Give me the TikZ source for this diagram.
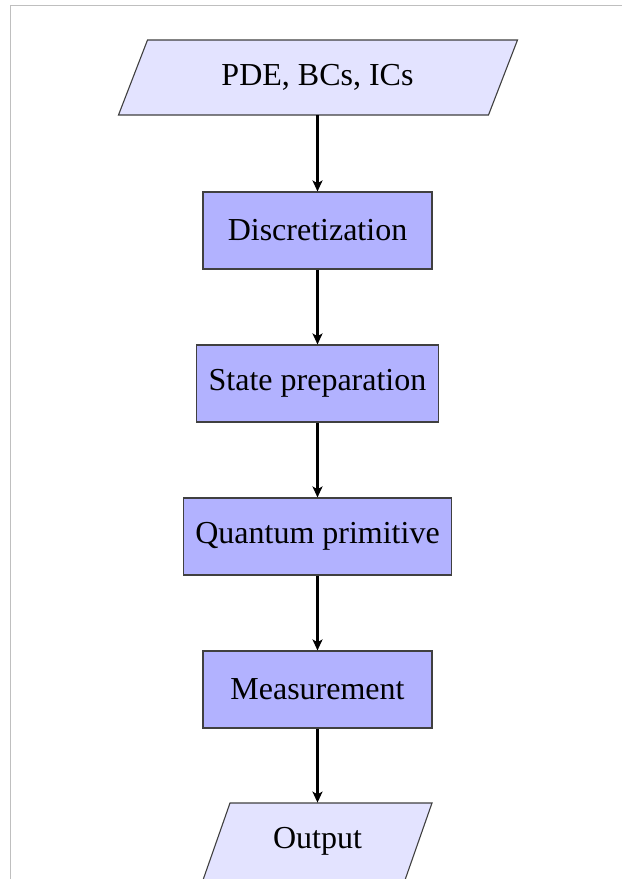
\documentclass[tikz,border=0pt]{standalone}
\usepackage{fontspec}
\setmainfont{Liberation Serif}
\usetikzlibrary{arrows.meta,calc}
\begin{document}
\begin{tikzpicture}[x=0.5pt,y=-0.5pt,
  txt/.style={font=\fontsize{16}{19}\selectfont},
  stepbox/.style={txt, draw=black!75, fill=blue!30, line width=0.55pt,
    minimum width=114.5pt, minimum height=38.5pt, inner xsep=6pt},
  iobox/.style={txt, inner sep=0pt},
  ioshape/.style={draw=black!75, fill=blue!11, line width=0.55pt},
  arr/.style={draw=black, line width=1.1pt, -{Stealth[length=5.5pt,width=5pt,inset=1.4pt]}},
  frame/.style={draw=black!25, line width=0.7pt}]
\useasboundingbox (0,0) rectangle (622,879);
\draw[frame] (10.5,879) -- (10.5,5.5) -- (622,5.5);
% input parallelogram
\node[iobox, minimum height=37.5pt] (in) at (317.5,77.5) {};
\path[ioshape] ($(in.center)+(-170,-37.5)$) -- ($(in.center)+(200,-37.5)$)
  -- ($(in.center)+(171,37.5)$) -- ($(in.center)+(-199,37.5)$) -- cycle;
\node[txt] at (in.center) {PDE, BCs, ICs};
% steps
\node[stepbox] (d) at (317.5,230.5) {Discretization};
\node[stepbox] (s) at (317.5,383.5) {State preparation};
\node[stepbox] (q) at (317.5,536.5) {Quantum primitive};
\node[stepbox] (m) at (317.5,689.5) {Measurement};
% output parallelogram
\node[iobox, minimum height=38.5pt] (out) at (317.5,841.5) {};
\path[ioshape] ($(out.center)+(-87.5,-38.5)$) -- ($(out.center)+(114.5,-38.5)$)
  -- ($(out.center)+(87.5,38.5)$) -- ($(out.center)+(-114.5,38.5)$) -- cycle;
\node[txt] at (out.center) {Output};
% connectors
\draw[arr] (in.south) -- (d.north);
\draw[arr] (d.south) -- (s.north);
\draw[arr] (s.south) -- (q.north);
\draw[arr] (q.south) -- (m.north);
\draw[arr] (m.south) -- (out.north);
\end{tikzpicture}
\end{document}
